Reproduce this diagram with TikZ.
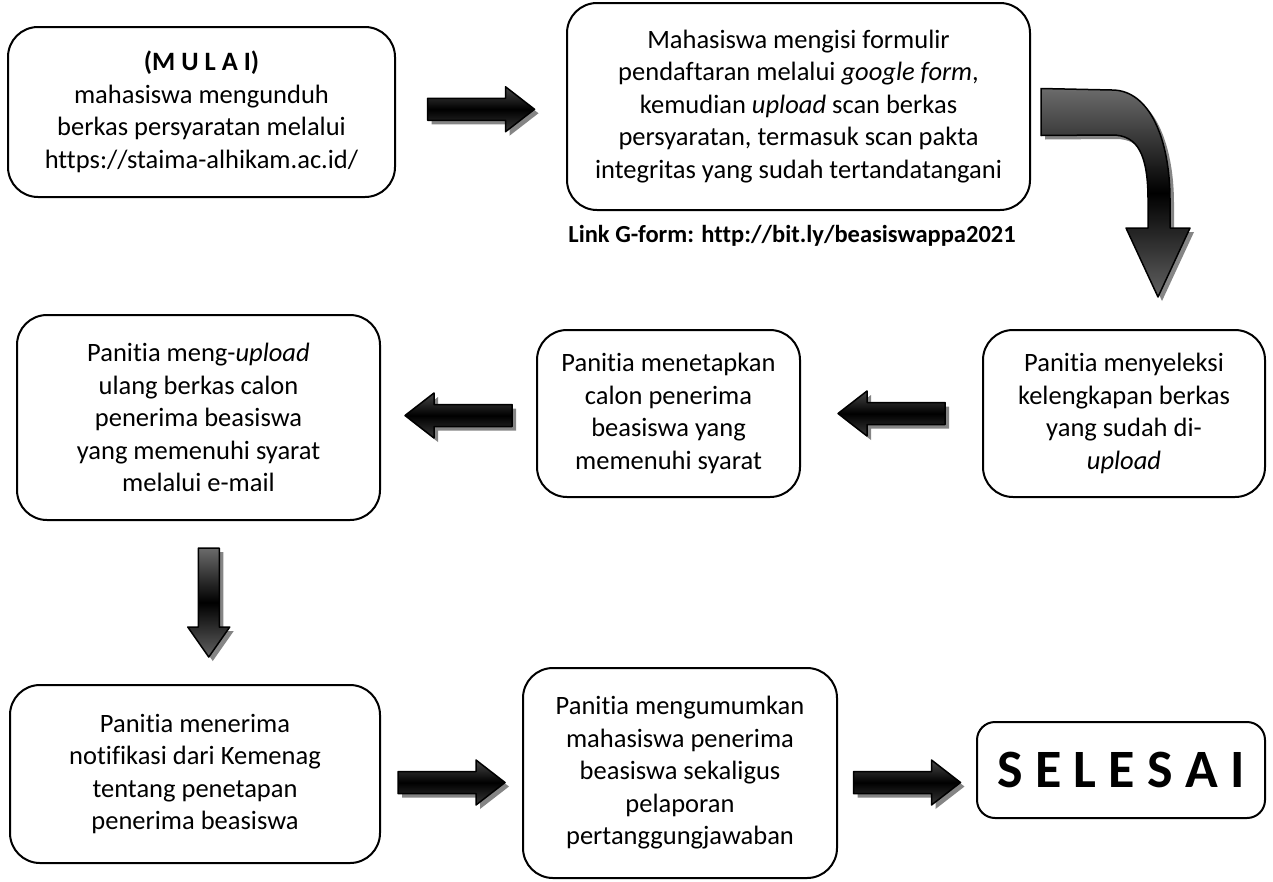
\documentclass[tikz,border=0pt]{standalone}
\usepackage{fontspec}
\setmainfont{Carlito}[Ligatures=CommonOff]
\usetikzlibrary{positioning, calc}

\begin{document}
\begin{tikzpicture}[x=1pt, y=-1pt,
    box/.style={draw, line width=2pt, rounded corners=30pt, align=center, inner sep=0pt,
        font=\fontsize{26.5}{32.5}\selectfont},
    blk/.style={draw=black, line width=1.5pt, line join=round,
        preaction={fill=black!48, draw=none, transform canvas={shift={(4pt,-4pt)}}}},
    rarrow/.pic={\draw[blk, top color=black!72, bottom color=black!78, middle color=black]
        (-53.5,-11) -- (24.5,-11) -- (24.5,-22.5) -- (53.5,0) -- (24.5,22.5) -- (24.5,11) -- (-53.5,11) -- cycle;},
    darrow/.pic={\draw[blk, top color=black!58, bottom color=black!62, middle color=black]
        (-10.5,-54.5) -- (10.5,-54.5) -- (10.5,24.5) -- (21,24.5) -- (0,54.5) -- (-21,24.5) -- (-10.5,24.5) -- cycle;}]
    \useasboundingbox (0,0) rectangle (1273,881);

    % Define the nodes
    \node[box, minimum width=387pt, minimum height=170pt] (mulai) at (201.5,112)
        {\textbf{(M U L A I)}\\ mahasiswa mengunduh\\ berkas persyaratan melalui\\ https://staima-alhikam.ac.id/};
    \node[box, minimum width=463pt, minimum height=207pt] (gform) at (798.5,106.5)
        {Mahasiswa mengisi formulir\\ pendaftaran melalui \textit{google form},\\ kemudian \textit{upload} scan berkas\\ persyaratan, termasuk scan pakta\\ integritas yang sudah tertandatangani};
    \node[font=\fontsize{24.5}{30}\selectfont\bfseries] (link) at (792,236) {Link G-form: http://bit.ly/beasiswappa2021};
    \node[box, minimum width=282pt, minimum height=167pt] (seleksi) at (1124,413.5)
        {Panitia menyeleksi\\ kelengkapan berkas\\ yang sudah di-\\ \textit{upload}};
    \node[box, minimum width=263pt, minimum height=167pt] (tetap) at (668.5,413.5)
        {Panitia menetapkan\\ calon penerima\\ beasiswa yang\\ memenuhi syarat};
    \node[box, minimum width=363pt, minimum height=205pt] (unggah) at (198.5,417.5)
        {Panitia meng-\textit{upload}\\ ulang berkas calon\\ penerima beasiswa\\ yang memenuhi syarat\\ melalui e-mail};
    \node[box, minimum width=370pt, minimum height=178pt] (notif) at (195,774)
        {Panitia menerima\\ notifikasi dari Kemenag\\ tentang penetapan\\ penerima beasiswa};
    \node[box, minimum width=314pt, minimum height=210pt] (umum) at (680,773)
        {Panitia mengumumkan\\ mahasiswa penerima\\ beasiswa sekaligus\\ pelaporan\\ pertanggungjawaban};
    \node[box, rounded corners=18pt, minimum width=288pt, minimum height=96pt,
        font=\fontsize{54}{60}\selectfont\bfseries] (selesai) at (1121,770) {S E L E S A I};

    % Define the arrows
    \pic at ($(mulai.east)!0.5!(gform.west)$) {rarrow};
    \draw[blk, top color=black!58, bottom color=black!62, middle color=black]
        ($(gform.east)+(10,-18)$) -- (1112,90) .. controls (1150,90) and (1170,140) .. (1170,200)
        -- (1170,228) -- (1190,228) -- (1158,297) -- (1126,228) -- (1148,228) -- (1148,200)
        .. controls (1148,155) and (1138,135) .. (1112,135) -- ($(gform.east)+(10,29)$) -- cycle;
    \pic[rotate=180] at ($(seleksi.west)!0.5!(tetap.east)$) {rarrow};
    \pic[rotate=180] at ($(tetap.west)!0.5!(unggah.east)$) {rarrow};
    \pic at ($(unggah.south)!0.5!(notif.north)+(12,0)$) {darrow};
    \pic at ($(notif.east)!0.5!(umum.west)+(0,9)$) {rarrow};
    \pic at ($(umum.east)!0.5!(selesai.west)+(0,11)$) {rarrow};

\end{tikzpicture}
\end{document}
